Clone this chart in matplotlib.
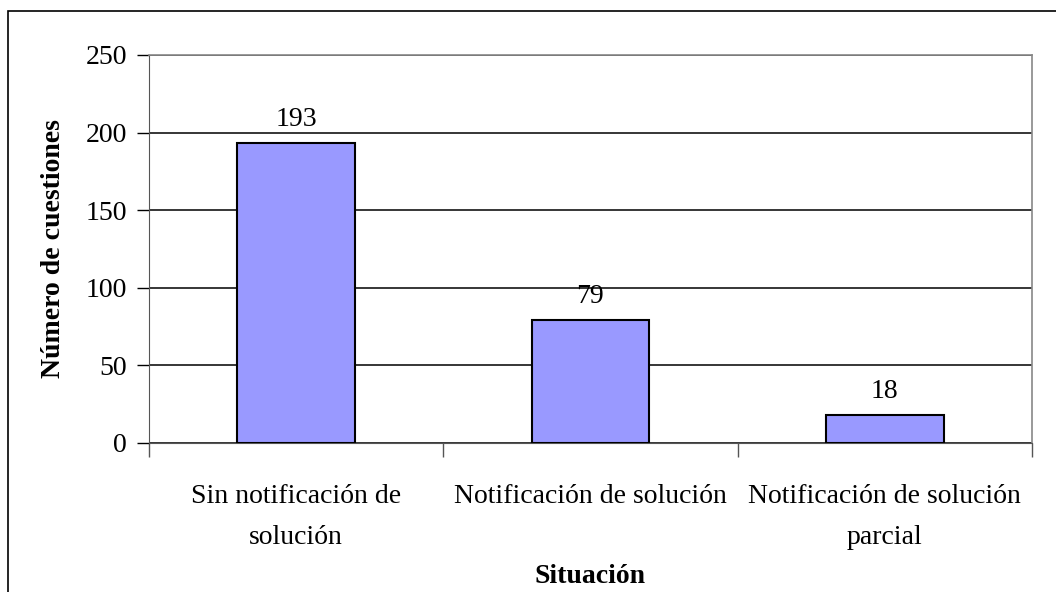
import numpy as np
import matplotlib
matplotlib.use('Agg')
import matplotlib.pyplot as plt
from matplotlib.patches import Rectangle

plt.rcParams['font.family'] = ['Liberation Serif', 'DejaVu Serif']

categorias = ['Sin notificación de\nsolución', 'Notificación de solución',
              'Notificación de solución\nparcial']
valores = [193, 79, 18]
yticks = [0, 50, 100, 150, 200, 250]

fig = plt.figure(figsize=(10.56, 5.92), dpi=100)
ax = fig.add_axes([149/1056, 1 - 443/592, (1032 - 149)/1056, (443 - 55)/592])

x = np.arange(len(categorias))
ax.bar(x, valores, width=0.4, color='#9999ff', edgecolor='black', linewidth=1.5, zorder=3)

for xi, v in zip(x, valores):
    ax.annotate(str(v), (xi, v), xytext=(0, 8), textcoords='offset points',
                ha='center', va='bottom', fontsize=20)

ax.set_xlim(-0.5, 2.5)
ax.set_ylim(0, 250)
ax.set_yticks(yticks)
ax.yaxis.grid(True, color='black', linewidth=1.1, zorder=0)
ax.set_axisbelow(True)

# category boundaries as ticks, labels centered under each bar
ax.set_xticks([-0.5, 0.5, 1.5, 2.5])
ax.set_xticklabels([])
ax.set_xticks(x, minor=True)
ax.set_xticklabels(categorias, minor=True, fontsize=20, linespacing=1.85)
ax.tick_params(axis='x', which='minor', length=0, pad=29.5)
ax.tick_params(axis='x', which='major', length=10, width=1, color='#555555', direction='out')
ax.tick_params(axis='y', length=9, width=1, direction='out', labelsize=20, pad=7)

for s in ['top', 'right']:
    ax.spines[s].set_color('#888888')
    ax.spines[s].set_linewidth(1.2)
ax.spines['left'].set_color('#555555')
ax.spines['bottom'].set_color('#555555')

ax.set_xlabel('Situación', fontsize=20, fontweight='bold', labelpad=10)
ax.set_ylabel('Número de cuestiones', fontsize=20, fontweight='bold', labelpad=14)

# outer chart border
fig.patches.append(Rectangle((8/1056, -0.05), 1.1, 1 - 11/592 + 0.05, transform=fig.transFigure,
                             fill=False, edgecolor='black', linewidth=1.2, clip_on=False))

plt.savefig('out.png', dpi=100)
